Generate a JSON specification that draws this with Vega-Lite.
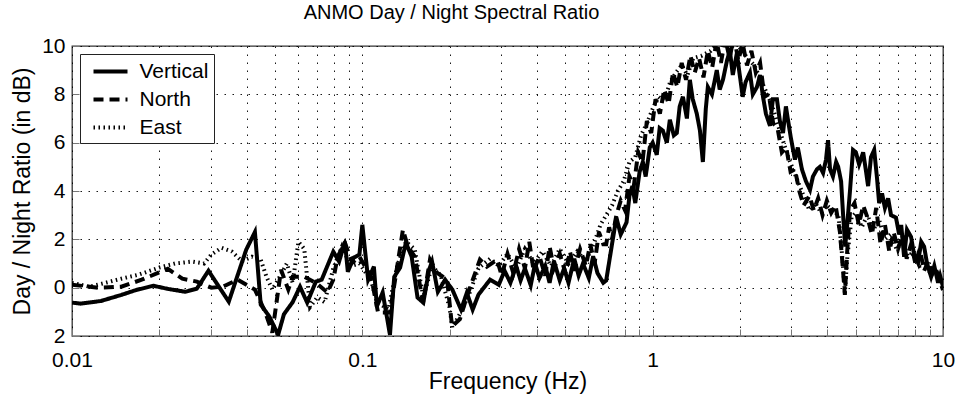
{
  "$schema": "https://vega.github.io/schema/vega-lite/v6.json",
  "autosize": "none",
  "width": 871,
  "height": 290,
  "padding": {"left": 72, "top": 46, "right": 12, "bottom": 58},
  "background": "white",
  "title": {"text": "ANMO Day / Night Spectral Ratio", "fontSize": 20, "fontWeight": "normal", "color": "black", "font": "Liberation Sans", "offset": 12, "dx": -56},
  "config": {
    "font": "Liberation Sans",
    "view": {"stroke": "#333", "strokeWidth": 1.3},
    "axis": {"labelColor": "black", "titleColor": "black", "labelFontSize": 21, "titleFontSize": 23, "titleFontWeight": "normal", "grid": true, "gridColor": "black", "gridDash": [1.5, 6.5], "gridOpacity": 0.9, "gridWidth": 1, "domain": false, "tickColor": "#777", "tickSize": -7},
    "legend": {"orient": "top-left", "offset": 8, "strokeColor": "#222", "fillColor": "white", "padding": 5.5, "symbolType": "M-1.7,0H1.7", "symbolSize": 400, "symbolOffset": 13, "symbolStrokeColor": "black", "symbolFillColor": "transparent", "labelFontSize": 21, "labelColor": "black", "labelOffset": 17, "rowPadding": 6}
  },
  "data": {"values": [
    {"s":"East","f":0.01,"v":0.2},{"s":"East","f":0.01148,"v":0.04},{"s":"East","f":0.01303,"v":0.2},{"s":"East","f":0.01479,"v":0.37},{"s":"East","f":0.01698,"v":0.54},{"s":"East","f":0.01995,"v":0.83},{"s":"East","f":0.02265,"v":1.0},{"s":"East","f":0.026,"v":1.08},{"s":"East","f":0.02851,"v":1.0},{"s":"East","f":0.0302,"v":1.37},{"s":"East","f":0.03273,"v":1.65},{"s":"East","f":0.03548,"v":1.5},{"s":"East","f":0.03846,"v":1.1},{"s":"East","f":0.04169,"v":1.28},{"s":"East","f":0.04467,"v":1.16},{"s":"East","f":0.04677,"v":0.45},{"s":"East","f":0.04898,"v":-0.08},{"s":"East","f":0.05129,"v":0.33},{"s":"East","f":0.05495,"v":1.0},{"s":"East","f":0.05754,"v":0.2},{"s":"East","f":0.06026,"v":1.9},{"s":"East","f":0.0631,"v":1.6},{"s":"East","f":0.06607,"v":-0.8},{"s":"East","f":0.06998,"v":-0.4},{"s":"East","f":0.07413,"v":-0.6},{"s":"East","f":0.07943,"v":0.8},{"s":"East","f":0.08511,"v":1.7},{"s":"East","f":0.0912,"v":0.9},{"s":"East","f":0.09772,"v":1.0},{"s":"East","f":0.1072,"v":0.3},{"s":"East","f":0.1122,"v":-0.6},{"s":"East","f":0.123,"v":-0.9},{"s":"East","f":0.1318,"v":0.9},{"s":"East","f":0.1413,"v":1.9},{"s":"East","f":0.1514,"v":1.6},{"s":"East","f":0.1622,"v":-0.4},{"s":"East","f":0.1738,"v":0.9},{"s":"East","f":0.1862,"v":0.5},{"s":"East","f":0.1995,"v":-0.8},{"s":"East","f":0.2042,"v":-1.65},{"s":"East","f":0.2188,"v":-1.0},{"s":"East","f":0.2344,"v":-0.2},{"s":"East","f":0.2512,"v":0.8},{"s":"East","f":0.2754,"v":1.2},{"s":"East","f":0.2951,"v":0.9},{"s":"East","f":0.3162,"v":1.4},{"s":"East","f":0.3388,"v":0.8},{"s":"East","f":0.3631,"v":1.6},{"s":"East","f":0.389,"v":1.0},{"s":"East","f":0.4169,"v":1.5},{"s":"East","f":0.4467,"v":0.9},{"s":"East","f":0.4786,"v":1.6},{"s":"East","f":0.5129,"v":1.0},{"s":"East","f":0.5495,"v":1.5},{"s":"East","f":0.5888,"v":1.1},{"s":"East","f":0.631,"v":1.9},{"s":"East","f":0.6607,"v":2.6},{"s":"East","f":0.6918,"v":3.0},{"s":"East","f":0.7244,"v":3.4},{"s":"East","f":0.7586,"v":4.0},{"s":"East","f":0.7943,"v":4.4},{"s":"East","f":0.8318,"v":5.2},{"s":"East","f":0.871,"v":5.4},{"s":"East","f":0.912,"v":6.3},{"s":"East","f":0.955,"v":6.8},{"s":"East","f":1.0,"v":7.4},{"s":"East","f":1.047,"v":7.9},{"s":"East","f":1.096,"v":7.7},{"s":"East","f":1.148,"v":8.5},{"s":"East","f":1.202,"v":8.9},{"s":"East","f":1.259,"v":9.2},{"s":"East","f":1.318,"v":8.8},{"s":"East","f":1.38,"v":9.5},{"s":"East","f":1.479,"v":9.6},{"s":"East","f":1.585,"v":9.8},{"s":"East","f":1.698,"v":10.2},{"s":"East","f":1.82,"v":9.9},{"s":"East","f":1.95,"v":10.1},{"s":"East","f":2.089,"v":9.6},{"s":"East","f":2.239,"v":9.2},{"s":"East","f":2.399,"v":8.4},{"s":"East","f":2.57,"v":7.6},{"s":"East","f":2.754,"v":6.4},{"s":"East","f":2.951,"v":5.3},{"s":"East","f":3.162,"v":4.4},{"s":"East","f":3.311,"v":3.8},{"s":"East","f":3.467,"v":3.2},{"s":"East","f":3.631,"v":3.5},{"s":"East","f":3.802,"v":3.1},{"s":"East","f":3.981,"v":3.4},{"s":"East","f":4.169,"v":3.2},{"s":"East","f":4.365,"v":3.0},{"s":"East","f":4.519,"v":1.0},{"s":"East","f":4.592,"v":-0.2},{"s":"East","f":4.677,"v":1.2},{"s":"East","f":4.842,"v":2.9},{"s":"East","f":5.012,"v":3.1},{"s":"East","f":5.248,"v":2.5},{"s":"East","f":5.495,"v":3.0},{"s":"East","f":5.754,"v":2.4},{"s":"East","f":6.026,"v":2.8},{"s":"East","f":6.31,"v":2.0},{"s":"East","f":6.607,"v":2.2},{"s":"East","f":6.918,"v":1.6},{"s":"East","f":7.244,"v":1.9},{"s":"East","f":7.586,"v":1.3},{"s":"East","f":7.943,"v":1.5},{"s":"East","f":8.318,"v":0.9},{"s":"East","f":8.71,"v":1.0},{"s":"East","f":9.12,"v":0.5},{"s":"East","f":9.55,"v":0.6},{"s":"East","f":10,"v":0.1},

    {"s":"North","f":0.01,"v":0.12},{"s":"North","f":0.0123,"v":0.0},{"s":"North","f":0.01479,"v":0.04},{"s":"North","f":0.01738,"v":0.33},{"s":"North","f":0.02138,"v":0.78},{"s":"North","f":0.02399,"v":0.37},{"s":"North","f":0.02692,"v":0.25},{"s":"North","f":0.0302,"v":0.0},{"s":"North","f":0.03311,"v":0.04},{"s":"North","f":0.03715,"v":0.33},{"s":"North","f":0.04266,"v":-0.08},{"s":"North","f":0.04624,"v":-1.0},{"s":"North","f":0.04898,"v":-1.86},{"s":"North","f":0.05248,"v":0.74},{"s":"North","f":0.05559,"v":-0.08},{"s":"North","f":0.05754,"v":0.45},{"s":"North","f":0.0631,"v":0.45},{"s":"North","f":0.06918,"v":0.2},{"s":"North","f":0.07586,"v":-0.2},{"s":"North","f":0.07943,"v":0.33},{"s":"North","f":0.08222,"v":1.28},{"s":"North","f":0.0871,"v":1.86},{"s":"North","f":0.09226,"v":1.03},{"s":"North","f":0.09772,"v":1.28},{"s":"North","f":0.1072,"v":0.45},{"s":"North","f":0.1133,"v":-1.03},{"s":"North","f":0.1245,"v":-1.03},{"s":"North","f":0.1297,"v":0.33},{"s":"North","f":0.138,"v":2.4},{"s":"North","f":0.1435,"v":1.7},{"s":"North","f":0.1517,"v":1.28},{"s":"North","f":0.1618,"v":-0.62},{"s":"North","f":0.171,"v":1.16},{"s":"North","f":0.1807,"v":0.62},{"s":"North","f":0.1959,"v":0.33},{"s":"North","f":0.2037,"v":-1.6},{"s":"North","f":0.2168,"v":-1.3},{"s":"North","f":0.2291,"v":-0.37},{"s":"North","f":0.2541,"v":1.16},{"s":"North","f":0.2685,"v":0.87},{"s":"North","f":0.2911,"v":1.16},{"s":"North","f":0.302,"v":0.5},{"s":"North","f":0.3162,"v":1.4},{"s":"North","f":0.3311,"v":0.6},{"s":"North","f":0.3467,"v":1.6},{"s":"North","f":0.3631,"v":0.8},{"s":"North","f":0.3758,"v":1.9},{"s":"North","f":0.389,"v":0.7},{"s":"North","f":0.4074,"v":1.3},{"s":"North","f":0.4266,"v":0.5},{"s":"North","f":0.4416,"v":1.7},{"s":"North","f":0.4571,"v":0.8},{"s":"North","f":0.4786,"v":1.4},{"s":"North","f":0.5012,"v":0.6},{"s":"North","f":0.5188,"v":1.5},{"s":"North","f":0.537,"v":0.7},{"s":"North","f":0.5623,"v":1.6},{"s":"North","f":0.5888,"v":0.9},{"s":"North","f":0.6095,"v":1.8},{"s":"North","f":0.631,"v":1.0},{"s":"North","f":0.6531,"v":2.3},{"s":"North","f":0.6761,"v":1.8},{"s":"North","f":0.6918,"v":1.8},{"s":"North","f":0.708,"v":2.5},{"s":"North","f":0.7244,"v":2.0},{"s":"North","f":0.7499,"v":3.0},{"s":"North","f":0.7762,"v":3.6},{"s":"North","f":0.8035,"v":3.2},{"s":"North","f":0.8318,"v":4.6},{"s":"North","f":0.861,"v":4.2},{"s":"North","f":0.8913,"v":5.6},{"s":"North","f":0.9226,"v":5.2},{"s":"North","f":0.955,"v":6.9},{"s":"North","f":0.9886,"v":6.4},{"s":"North","f":1.023,"v":7.8},{"s":"North","f":1.059,"v":7.2},{"s":"North","f":1.096,"v":8.2},{"s":"North","f":1.135,"v":7.6},{"s":"North","f":1.175,"v":8.9},{"s":"North","f":1.216,"v":8.3},{"s":"North","f":1.259,"v":9.3},{"s":"North","f":1.303,"v":8.6},{"s":"North","f":1.349,"v":9.6},{"s":"North","f":1.396,"v":8.9},{"s":"North","f":1.445,"v":9.5},{"s":"North","f":1.496,"v":8.7},{"s":"North","f":1.549,"v":9.8},{"s":"North","f":1.603,"v":9.1},{"s":"North","f":1.66,"v":10.2},{"s":"North","f":1.718,"v":9.3},{"s":"North","f":1.778,"v":10.3},{"s":"North","f":1.841,"v":9.5},{"s":"North","f":1.905,"v":10.4},{"s":"North","f":1.972,"v":9.4},{"s":"North","f":2.042,"v":10.1},{"s":"North","f":2.113,"v":9.2},{"s":"North","f":2.188,"v":9.8},{"s":"North","f":2.265,"v":8.9},{"s":"North","f":2.344,"v":9.3},{"s":"North","f":2.427,"v":7.9},{"s":"North","f":2.512,"v":8.0},{"s":"North","f":2.6,"v":6.8},{"s":"North","f":2.692,"v":6.6},{"s":"North","f":2.786,"v":5.6},{"s":"North","f":2.884,"v":5.8},{"s":"North","f":2.985,"v":4.8},{"s":"North","f":3.09,"v":4.9},{"s":"North","f":3.199,"v":4.0},{"s":"North","f":3.311,"v":3.4},{"s":"North","f":3.467,"v":3.8},{"s":"North","f":3.589,"v":3.2},{"s":"North","f":3.715,"v":3.7},{"s":"North","f":3.846,"v":3.0},{"s":"North","f":3.981,"v":3.6},{"s":"North","f":4.121,"v":3.1},{"s":"North","f":4.266,"v":3.4},{"s":"North","f":4.416,"v":2.3},{"s":"North","f":4.519,"v":0.8},{"s":"North","f":4.592,"v":-0.3},{"s":"North","f":4.677,"v":1.5},{"s":"North","f":4.786,"v":3.2},{"s":"North","f":4.955,"v":3.5},{"s":"North","f":5.129,"v":2.6},{"s":"North","f":5.309,"v":3.4},{"s":"North","f":5.495,"v":2.9},{"s":"North","f":5.689,"v":2.2},{"s":"North","f":5.888,"v":3.3},{"s":"North","f":6.095,"v":1.8},{"s":"North","f":6.31,"v":2.6},{"s":"North","f":6.531,"v":1.5},{"s":"North","f":6.761,"v":2.3},{"s":"North","f":6.998,"v":1.6},{"s":"North","f":7.244,"v":2.2},{"s":"North","f":7.499,"v":1.2},{"s":"North","f":7.762,"v":1.8},{"s":"North","f":8.035,"v":1.0},{"s":"North","f":8.318,"v":1.6},{"s":"North","f":8.61,"v":0.7},{"s":"North","f":8.913,"v":1.1},{"s":"North","f":9.226,"v":0.4},{"s":"North","f":9.55,"v":0.6},{"s":"North","f":10,"v":-0.1},

    {"s":"Vertical","f":0.01,"v":-0.62},{"s":"Vertical","f":0.01072,"v":-0.66},{"s":"Vertical","f":0.01259,"v":-0.55},{"s":"Vertical","f":0.01479,"v":-0.3},{"s":"Vertical","f":0.0166,"v":-0.1},{"s":"Vertical","f":0.01905,"v":0.08},{"s":"Vertical","f":0.02138,"v":-0.05},{"s":"Vertical","f":0.02455,"v":-0.17},{"s":"Vertical","f":0.02692,"v":-0.04},{"s":"Vertical","f":0.02951,"v":0.7},{"s":"Vertical","f":0.03467,"v":-0.58},{"s":"Vertical","f":0.03981,"v":1.57},{"s":"Vertical","f":0.04266,"v":2.3},{"s":"Vertical","f":0.04467,"v":-0.7},{"s":"Vertical","f":0.04786,"v":-1.2},{"s":"Vertical","f":0.05129,"v":-1.95},{"s":"Vertical","f":0.0537,"v":-1.1},{"s":"Vertical","f":0.05754,"v":-0.6},{"s":"Vertical","f":0.061,"v":0.04},{"s":"Vertical","f":0.06457,"v":-0.62},{"s":"Vertical","f":0.06918,"v":0.25},{"s":"Vertical","f":0.07244,"v":0.33},{"s":"Vertical","f":0.07943,"v":1.49},{"s":"Vertical","f":0.08318,"v":1.08},{"s":"Vertical","f":0.0871,"v":1.9},{"s":"Vertical","f":0.08913,"v":0.66},{"s":"Vertical","f":0.09333,"v":1.24},{"s":"Vertical","f":0.09772,"v":1.37},{"s":"Vertical","f":0.1,"v":2.6},{"s":"Vertical","f":0.1047,"v":0.33},{"s":"Vertical","f":0.1096,"v":0.87},{"s":"Vertical","f":0.1122,"v":-0.78},{"s":"Vertical","f":0.1175,"v":-0.2},{"s":"Vertical","f":0.1245,"v":-1.95},{"s":"Vertical","f":0.1288,"v":0.45},{"s":"Vertical","f":0.1349,"v":0.83},{"s":"Vertical","f":0.1413,"v":1.86},{"s":"Vertical","f":0.1479,"v":1.28},{"s":"Vertical","f":0.1549,"v":-0.41},{"s":"Vertical","f":0.1622,"v":-0.62},{"s":"Vertical","f":0.1698,"v":0.74},{"s":"Vertical","f":0.1738,"v":1.08},{"s":"Vertical","f":0.182,"v":-0.17},{"s":"Vertical","f":0.1928,"v":0.33},{"s":"Vertical","f":0.2042,"v":-0.08},{"s":"Vertical","f":0.2188,"v":-0.91},{"s":"Vertical","f":0.2291,"v":-0.21},{"s":"Vertical","f":0.2399,"v":-0.91},{"s":"Vertical","f":0.2512,"v":-0.29},{"s":"Vertical","f":0.2754,"v":0.33},{"s":"Vertical","f":0.2951,"v":0.12},{"s":"Vertical","f":0.309,"v":0.7},{"s":"Vertical","f":0.3236,"v":0.2},{"s":"Vertical","f":0.3388,"v":0.9},{"s":"Vertical","f":0.3508,"v":0.3},{"s":"Vertical","f":0.3631,"v":0.8},{"s":"Vertical","f":0.3802,"v":0.1},{"s":"Vertical","f":0.3936,"v":1.0},{"s":"Vertical","f":0.4074,"v":0.4},{"s":"Vertical","f":0.4266,"v":0.9},{"s":"Vertical","f":0.4416,"v":0.2},{"s":"Vertical","f":0.4571,"v":1.1},{"s":"Vertical","f":0.4786,"v":0.3},{"s":"Vertical","f":0.4955,"v":0.8},{"s":"Vertical","f":0.5129,"v":0.2},{"s":"Vertical","f":0.537,"v":1.2},{"s":"Vertical","f":0.5559,"v":0.5},{"s":"Vertical","f":0.5754,"v":1.0},{"s":"Vertical","f":0.6026,"v":0.4},{"s":"Vertical","f":0.6237,"v":1.3},{"s":"Vertical","f":0.6457,"v":0.6},{"s":"Vertical","f":0.6761,"v":0.2},{"s":"Vertical","f":0.6918,"v":0.3},{"s":"Vertical","f":0.7244,"v":1.8},{"s":"Vertical","f":0.75,"v":2.9},{"s":"Vertical","f":0.7762,"v":2.2},{"s":"Vertical","f":0.8128,"v":2.7},{"s":"Vertical","f":0.8318,"v":3.8},{"s":"Vertical","f":0.8511,"v":4.2},{"s":"Vertical","f":0.871,"v":3.5},{"s":"Vertical","f":0.9016,"v":4.8},{"s":"Vertical","f":0.925,"v":5.2},{"s":"Vertical","f":0.946,"v":4.6},{"s":"Vertical","f":0.9772,"v":5.8},{"s":"Vertical","f":1.0,"v":6.0},{"s":"Vertical","f":1.033,"v":5.5},{"s":"Vertical","f":1.057,"v":6.6},{"s":"Vertical","f":1.084,"v":6.5},{"s":"Vertical","f":1.119,"v":6.0},{"s":"Vertical","f":1.146,"v":6.95},{"s":"Vertical","f":1.183,"v":6.3},{"s":"Vertical","f":1.211,"v":6.4},{"s":"Vertical","f":1.239,"v":7.5},{"s":"Vertical","f":1.271,"v":7.9},{"s":"Vertical","f":1.312,"v":7.0},{"s":"Vertical","f":1.343,"v":8.6},{"s":"Vertical","f":1.374,"v":7.8},{"s":"Vertical","f":1.419,"v":7.2},{"s":"Vertical","f":1.455,"v":6.5},{"s":"Vertical","f":1.489,"v":5.2},{"s":"Vertical","f":1.524,"v":7.4},{"s":"Vertical","f":1.549,"v":8.3},{"s":"Vertical","f":1.6,"v":8.0},{"s":"Vertical","f":1.663,"v":9.0},{"s":"Vertical","f":1.702,"v":8.2},{"s":"Vertical","f":1.746,"v":8.6},{"s":"Vertical","f":1.803,"v":9.4},{"s":"Vertical","f":1.845,"v":9.8},{"s":"Vertical","f":1.888,"v":8.8},{"s":"Vertical","f":1.95,"v":9.7},{"s":"Vertical","f":1.995,"v":8.8},{"s":"Vertical","f":2.042,"v":7.9},{"s":"Vertical","f":2.089,"v":8.5},{"s":"Vertical","f":2.163,"v":8.9},{"s":"Vertical","f":2.213,"v":8.0},{"s":"Vertical","f":2.286,"v":8.3},{"s":"Vertical","f":2.344,"v":8.8},{"s":"Vertical","f":2.399,"v":7.9},{"s":"Vertical","f":2.455,"v":7.2},{"s":"Vertical","f":2.535,"v":6.7},{"s":"Vertical","f":2.594,"v":7.8},{"s":"Vertical","f":2.679,"v":7.8},{"s":"Vertical","f":2.742,"v":6.9},{"s":"Vertical","f":2.812,"v":6.4},{"s":"Vertical","f":2.877,"v":7.5},{"s":"Vertical","f":2.924,"v":6.95},{"s":"Vertical","f":2.992,"v":6.2},{"s":"Vertical","f":3.09,"v":5.3},{"s":"Vertical","f":3.162,"v":5.8},{"s":"Vertical","f":3.266,"v":4.9},{"s":"Vertical","f":3.373,"v":4.4},{"s":"Vertical","f":3.483,"v":4.05},{"s":"Vertical","f":3.565,"v":4.6},{"s":"Vertical","f":3.681,"v":4.9},{"s":"Vertical","f":3.767,"v":5.0},{"s":"Vertical","f":3.864,"v":4.75},{"s":"Vertical","f":3.954,"v":5.3},{"s":"Vertical","f":4.018,"v":6.1},{"s":"Vertical","f":4.083,"v":4.9},{"s":"Vertical","f":4.178,"v":4.6},{"s":"Vertical","f":4.285,"v":5.2},{"s":"Vertical","f":4.355,"v":5.0},{"s":"Vertical","f":4.457,"v":4.4},{"s":"Vertical","f":4.529,"v":3.0},{"s":"Vertical","f":4.603,"v":1.7},{"s":"Vertical","f":4.677,"v":2.6},{"s":"Vertical","f":4.786,"v":4.05},{"s":"Vertical","f":4.898,"v":5.7},{"s":"Vertical","f":5.012,"v":5.6},{"s":"Vertical","f":5.14,"v":5.1},{"s":"Vertical","f":5.309,"v":5.6},{"s":"Vertical","f":5.433,"v":4.8},{"s":"Vertical","f":5.521,"v":4.2},{"s":"Vertical","f":5.649,"v":5.4},{"s":"Vertical","f":5.794,"v":5.7},{"s":"Vertical","f":5.929,"v":4.5},{"s":"Vertical","f":6.026,"v":3.5},{"s":"Vertical","f":6.166,"v":3.9},{"s":"Vertical","f":6.31,"v":3.3},{"s":"Vertical","f":6.471,"v":3.7},{"s":"Vertical","f":6.622,"v":3.0},{"s":"Vertical","f":6.887,"v":2.9},{"s":"Vertical","f":7.063,"v":2.2},{"s":"Vertical","f":7.178,"v":2.6},{"s":"Vertical","f":7.345,"v":1.28},{"s":"Vertical","f":7.516,"v":2.4},{"s":"Vertical","f":7.762,"v":2.1},{"s":"Vertical","f":7.943,"v":1.4},{"s":"Vertical","f":8.204,"v":1.03},{"s":"Vertical","f":8.414,"v":1.9},{"s":"Vertical","f":8.61,"v":1.7},{"s":"Vertical","f":8.81,"v":1.0},{"s":"Vertical","f":9.099,"v":0.45},{"s":"Vertical","f":9.333,"v":0.9},{"s":"Vertical","f":9.616,"v":0.2},{"s":"Vertical","f":9.772,"v":0.5},{"s":"Vertical","f":10,"v":0.04}
  ]},
  "encoding": {
    "x": {"field": "f", "type": "quantitative", "title": "Frequency (Hz)",
      "scale": {"type": "log", "domain": [0.01, 10], "nice": false},
      "axis": {"values": [0.01,0.02,0.03,0.04,0.05,0.06,0.07,0.08,0.09,0.1,0.2,0.3,0.4,0.5,0.6,0.7,0.8,0.9,1,2,3,4,5,6,7,8,9,10],
        "format": ".2~f", "labelExpr": "indexof(['0.01','0.1','1','10'], datum.label) >= 0 ? datum.label : ''",
        "labelFlush": false, "labelOverlap": false, "labelPadding": 20, "titlePadding": 0}},
    "y": {"field": "v", "type": "quantitative", "title": "Day / Night Ratio (in dB)",
      "scale": {"domain": [-2, 10], "nice": false, "zero": false},
      "axis": {"values": [-2,0,2,4,6,8,10], "labelExpr": "toString(abs(datum.value))", "labelFlush": false, "labelPadding": 14, "titlePadding": 7}},
    "strokeDash": {"field": "s", "type": "nominal", "title": null,
      "scale": {"domain": ["Vertical","North","East"], "range": [[1,0],[10,6],[1.5,3.5]]}},
    "strokeWidth": {"field": "s", "type": "nominal", "title": null,
      "scale": {"domain": ["Vertical","North","East"], "range": [4,4,1.5]}}
  },
  "layer": [
    {"transform": [{"filter": "datum.s == 'East'"}], "mark": {"type": "line", "color": "black", "clip": true, "strokeCap": "butt"}},
    {"transform": [{"filter": "datum.s == 'North'"}], "mark": {"type": "line", "color": "black", "clip": true, "strokeCap": "butt"}},
    {"transform": [{"filter": "datum.s == 'Vertical'"}], "mark": {"type": "line", "color": "black", "clip": true, "strokeCap": "butt"}}
  ]
}
